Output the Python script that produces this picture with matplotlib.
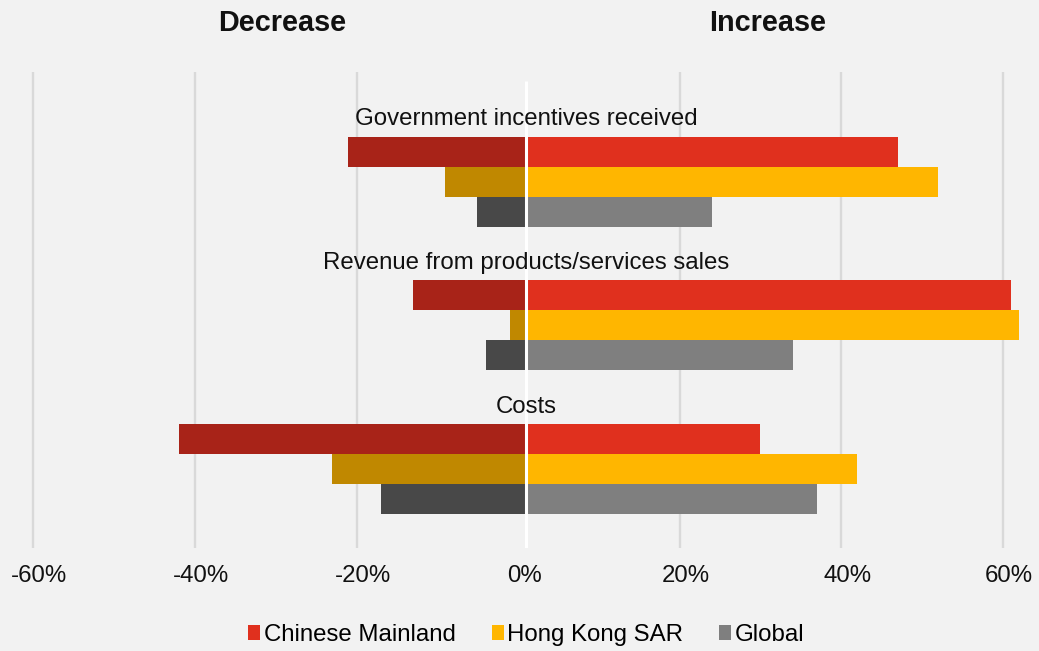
import matplotlib
matplotlib.use("Agg")
import matplotlib.pyplot as plt
import matplotlib.transforms as mtransforms
from matplotlib.patches import Patch
import numpy as np

plt.rcParams['font.family'] = ['Liberation Sans', 'DejaVu Sans']

# Survey categories (top to bottom) and series
categories = ["Government incentives received",
              "Revenue from products/services sales",
              "Costs"]
series = ["Chinese Mainland", "Hong Kong SAR", "Global"]

# Share of respondents expecting a decrease / increase (%)
decrease = {
    "Chinese Mainland": [22, 14, 43],
    "Hong Kong SAR":    [10, 2, 24],
    "Global":           [6, 5, 18],
}
increase = {
    "Chinese Mainland": [46, 60, 29],
    "Hong Kong SAR":    [51, 61, 41],
    "Global":           [23, 33, 36],
}

tick_values = [-60, -40, -20, 0, 20, 40, 60]
tick_labels = ["-60%", "-40%", "-20%", "0%", "20%", "40%", "60%"]

inc_colors = {"Chinese Mainland": "#E0301E", "Hong Kong SAR": "#FFB600", "Global": "#7F7F7F"}
dec_colors = {"Chinese Mainland": "#A82318", "Hong Kong SAR": "#C08800", "Global": "#484848"}

BG = "#F2F2F2"
BASE = 0.95          # bars diverge from a small white divider just right of zero
GROUP_START = 3.65
GROUP_STEP = 4.79
BAR_H = 1.0

fig = plt.figure(figsize=(10.39, 6.51), dpi=100, facecolor=BG)
ax = fig.add_axes([0.01666, 0.1582, 0.9643, 0.7312], facecolor=BG)

for i, cat in enumerate(categories):
    center = GROUP_START + GROUP_STEP * i
    for s, name in enumerate(series):
        y = center + (s - 1) * BAR_H
        ax.barh(y, increase[name][i], left=BASE, height=BAR_H,
                color=inc_colors[name], linewidth=0, zorder=3)
        ax.barh(y, -decrease[name][i], left=BASE, height=BAR_H,
                color=dec_colors[name], linewidth=0, zorder=3)
    ax.text(BASE, center - 2.08, cat, ha="center", va="center",
            fontsize=17.3, color="#111111", zorder=6)

# white divider between decrease and increase bars
ax.plot([BASE, BASE], [0.3, 15.87], color="white", lw=2.2, zorder=5,
        solid_capstyle="butt")

ax.set_xlim(-62, 62)
ax.set_ylim(15.867, 0)
ax.set_xticks(tick_values)
ax.set_xticklabels(tick_labels, fontsize=17.3, color="#111111")
ax.set_yticks([])
ax.tick_params(axis="x", length=0, pad=12)
offset = mtransforms.ScaledTranslation(6 / 100, 0, fig.dpi_scale_trans)
for lbl in ax.get_xticklabels():
    lbl.set_transform(lbl.get_transform() + offset)

for v in tick_values:
    if v != 0:
        ax.axvline(v, color="#D9D9D9", lw=1.7, zorder=1)
for sp in ax.spines.values():
    sp.set_visible(False)

fig.text(282 / 1039, 1 - 23 / 651, "Decrease", ha="center", va="center",
         fontsize=20.8, fontweight="bold", color="#111111")
fig.text(768 / 1039, 1 - 23 / 651, "Increase", ha="center", va="center",
         fontsize=20.8, fontweight="bold", color="#111111")

handles = [Patch(facecolor=inc_colors[n], edgecolor="none", label=n) for n in series]
fig.legend(handles=handles, loc="center", bbox_to_anchor=(526.5 / 1039, 1 - 635 / 651),
           ncol=3, frameon=False, fontsize=17.3, handlelength=0.5, handleheight=0.55,
           handletextpad=0.15, columnspacing=1.5, borderaxespad=0)

fig.savefig("out.png", dpi=100, facecolor=BG)
